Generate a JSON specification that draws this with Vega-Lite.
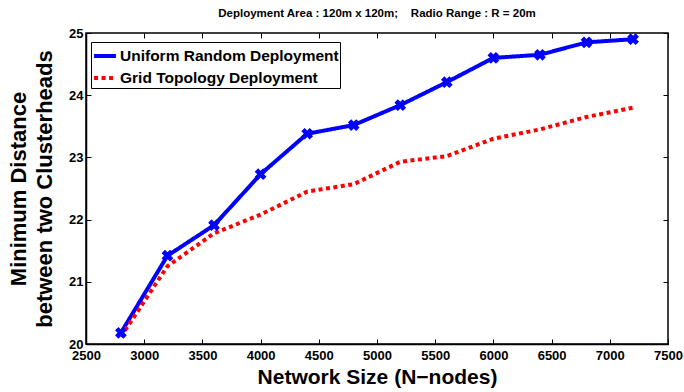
{
  "$schema": "https://vega.github.io/schema/vega-lite/v6.json",
  "autosize": "none",
  "width": 582,
  "height": 311,
  "padding": {"left": 86, "top": 33, "right": 16, "bottom": 48},
  "background": "white",
  "title": {
    "text": "Deployment Area : 120m x 120m;\u00a0\u00a0\u00a0\u00a0Radio Range : R = 20m",
    "font": "Liberation Sans",
    "fontSize": 11.5,
    "fontWeight": "bold",
    "color": "black",
    "anchor": "middle",
    "offset": 8
  },
  "config": {
    "view": {"stroke": "black", "strokeWidth": 1.5},
    "axis": {
      "labelFont": "Liberation Sans",
      "labelFontWeight": "bold",
      "labelFontSize": 13,
      "labelColor": "black",
      "titleFont": "Liberation Sans",
      "titleFontWeight": "bold",
      "titleFontSize": 22,
      "titleColor": "black",
      "grid": false,
      "domainColor": "black",
      "domainWidth": 1.5,
      "tickColor": "black",
      "tickWidth": 1,
      "tickSize": -5,
      "labelPadding": 8
    }
  },
  "data": {
    "values": [
      {"n": 2800, "d": 20.18, "series": "Uniform Random Deployment"},
      {"n": 3200, "d": 21.42, "series": "Uniform Random Deployment"},
      {"n": 3600, "d": 21.91, "series": "Uniform Random Deployment"},
      {"n": 4000, "d": 22.73, "series": "Uniform Random Deployment"},
      {"n": 4400, "d": 23.38, "series": "Uniform Random Deployment"},
      {"n": 4800, "d": 23.52, "series": "Uniform Random Deployment"},
      {"n": 5200, "d": 23.84, "series": "Uniform Random Deployment"},
      {"n": 5600, "d": 24.21, "series": "Uniform Random Deployment"},
      {"n": 6000, "d": 24.60, "series": "Uniform Random Deployment"},
      {"n": 6400, "d": 24.65, "series": "Uniform Random Deployment"},
      {"n": 6800, "d": 24.85, "series": "Uniform Random Deployment"},
      {"n": 7200, "d": 24.90, "series": "Uniform Random Deployment"},
      {"n": 2800, "d": 20.12, "series": "Grid Topology Deployment"},
      {"n": 3200, "d": 21.25, "series": "Grid Topology Deployment"},
      {"n": 3600, "d": 21.78, "series": "Grid Topology Deployment"},
      {"n": 4000, "d": 22.08, "series": "Grid Topology Deployment"},
      {"n": 4400, "d": 22.45, "series": "Grid Topology Deployment"},
      {"n": 4800, "d": 22.57, "series": "Grid Topology Deployment"},
      {"n": 5200, "d": 22.93, "series": "Grid Topology Deployment"},
      {"n": 5600, "d": 23.02, "series": "Grid Topology Deployment"},
      {"n": 6000, "d": 23.30, "series": "Grid Topology Deployment"},
      {"n": 6400, "d": 23.45, "series": "Grid Topology Deployment"},
      {"n": 6800, "d": 23.65, "series": "Grid Topology Deployment"},
      {"n": 7200, "d": 23.80, "series": "Grid Topology Deployment"}
    ]
  },
  "resolve": {"axis": {"x": "independent", "y": "independent"}},
  "layer": [
    {
      "mark": {"type": "line", "strokeWidth": 4, "strokeCap": "butt"},
      "encoding": {
        "x": {
          "field": "n", "type": "quantitative",
          "scale": {"domain": [2500, 7500], "nice": false, "zero": false},
          "axis": {"values": [2500,3000,3500,4000,4500,5000,5500,6000,6500,7000,7500], "format": "d", "title": "Network Size (N\u2212nodes)", "titlePadding": 4, "titleFontSize": 21, "labelFlush": false, "labelPadding": 10}
        },
        "y": {
          "field": "d", "type": "quantitative",
          "scale": {"domain": [20, 25], "nice": false, "zero": false},
          "axis": {"values": [20,21,22,23,24,25], "title": ["Minimum Distance", "between two Clusterheads"], "titlePadding": 12, "titleLineHeight": 26}
        },
        "color": {
          "field": "series", "type": "nominal",
          "scale": {"domain": ["Uniform Random Deployment", "Grid Topology Deployment"], "range": ["#0000ff", "#ff0000"]},
          "legend": {
            "title": null,
            "orient": "none",
            "legendX": 5,
            "legendY": 9,
            "strokeColor": "black",
            "fillColor": "white",
            "padding": 1,
            "labelFont": "Liberation Sans",
            "labelFontWeight": "bold",
            "labelFontSize": 15.5,
            "labelColor": "black",
            "labelLimit": 0,
            "symbolType": "stroke",
            "symbolSize": 480,
            "symbolStrokeWidth": 4,
            "rowPadding": 0,
            "labelOffset": 2
          }
        },
        "strokeDash": {
          "field": "series", "type": "nominal",
          "scale": {"domain": ["Uniform Random Deployment", "Grid Topology Deployment"], "range": [[1, 0], [4, 3.5]]},
          "legend": null
        }
      }
    },
    {
      "transform": [{"filter": "datum.series === 'Uniform Random Deployment'"}],
      "mark": {"type": "point", "shape": "cross", "angle": 45, "filled": true, "size": 140, "color": "#0000ff", "opacity": 1},
      "encoding": {
        "x": {"field": "n", "type": "quantitative", "scale": {"domain": [2500, 7500], "nice": false, "zero": false},
          "axis": {"orient": "top", "values": [2500,3000,3500,4000,4500,5000,5500,6000,6500,7000,7500], "labels": false, "title": null, "domain": false}},
        "y": {"field": "d", "type": "quantitative", "scale": {"domain": [20, 25], "nice": false, "zero": false},
          "axis": {"orient": "right", "values": [20,21,22,23,24,25], "labels": false, "title": null, "domain": false}}
      }
    }
  ]
}
